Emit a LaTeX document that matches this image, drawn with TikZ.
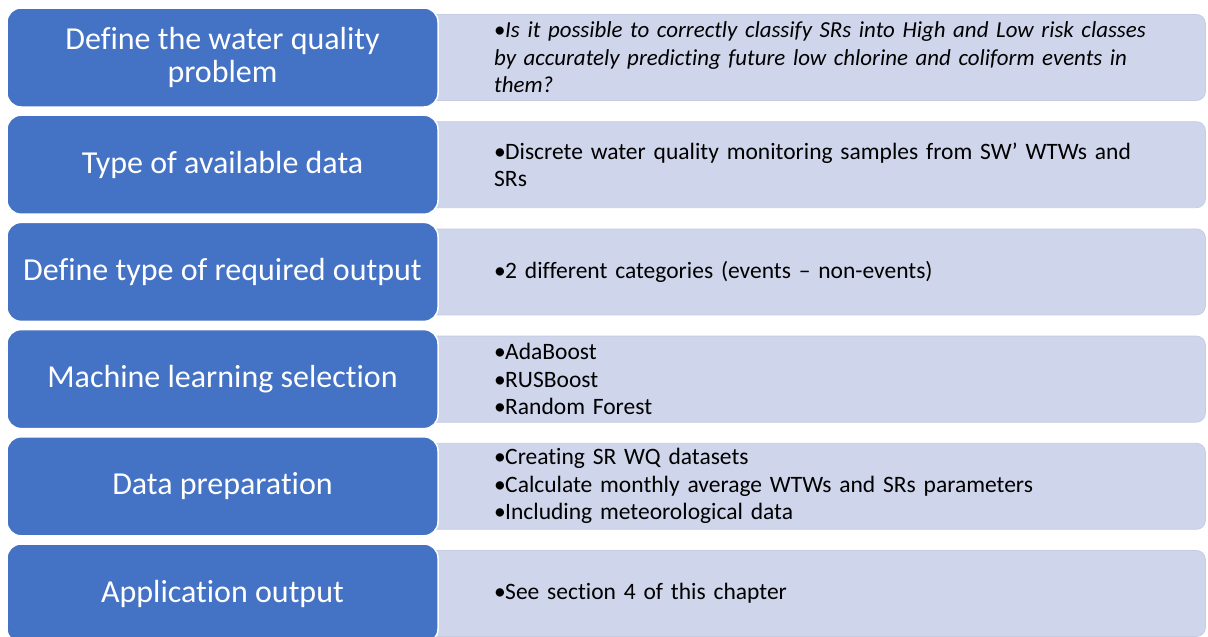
\documentclass[tikz,border=0pt]{standalone}
\usepackage{fontspec}
\setmainfont{Carlito}[RawFeature=-liga]
\definecolor{smblue}{HTML}{4472C4}
\definecolor{smlight}{HTML}{CFD5EA}
\definecolor{smlightedge}{HTML}{C6CCE2}
\newcommand{\bul}[1]{\hangindent=11pt\hangafter=1\noindent\makebox[11pt][l]{\upshape•}#1\par}
\begin{document}
\begin{tikzpicture}[x=1pt,y=-1pt,
  bluebox/.style={draw=white, line width=1.5pt, fill=smblue, rounded corners=14pt,
    minimum width=431pt, minimum height=99pt, text=white, align=center,
    font=\fontsize{32}{33}\selectfont, inner sep=0pt},
  lightbox/.style={draw=smlightedge, line width=0.8pt, fill=smlight, rounded corners=9pt,
    minimum width=785pt, minimum height=86pt, anchor=west, inner sep=0pt},
  bullets/.style={anchor=west, text width=700pt, align=left, inner sep=0pt,
    font=\fontsize{23.5}{27.5}\selectfont, text=black}
]
\clip (0,0) rectangle (1208,637);
% light boxes
\node[lightbox] (l1) at (420,57.5) {};
\node[lightbox] (l2) at (420,164.7) {};
\node[lightbox] (l3) at (420,271.9) {};
\node[lightbox] (l4) at (420,379.1) {};
\node[lightbox] (l5) at (420,486.3) {};
\node[lightbox] (l6) at (420,593.5) {};
% blue boxes
\node[bluebox] (b1) at (222.5,57.5) {Define the water quality\\problem};
\node[bluebox] (b2) at (222.5,164.7) {Type of available data};
\node[bluebox] (b3) at (222.5,271.9) {Define type of required output};
\node[bluebox] (b4) at (222.5,379.1) {Machine learning selection};
\node[bluebox] (b5) at (222.5,486.3) {Data preparation};
\node[bluebox] (b6) at (222.5,593.5) {Application output};
% texts
\node[bullets, font=\fontsize{22.9}{27.5}\selectfont] (t1) at (494,57.5) {\itshape\bul{Is it possible to correctly classify SRs into High and Low risk classes\\by accurately predicting future low chlorine and coliform events in\\them?}};
\node[bullets] (t2) at (494,164.7) {\bul{Discrete water quality monitoring samples from SW’ WTWs and\\SRs}};
\node[bullets] (t3) at (494,271.9) {\bul{2 different categories (events – non-events)}};
\node[bullets] (t4) at (494,379.1) {\bul{AdaBoost}\bul{RUSBoost}\bul{Random Forest}};
\node[bullets] (t5) at (494,486.3) {\bul{Creating SR WQ datasets}\bul{Calculate monthly average WTWs and SRs parameters}\bul{Including meteorological data}};
\node[bullets] (t6) at (494,593.5) {\bul{See section 4 of this chapter}};
\end{tikzpicture}
\end{document}
